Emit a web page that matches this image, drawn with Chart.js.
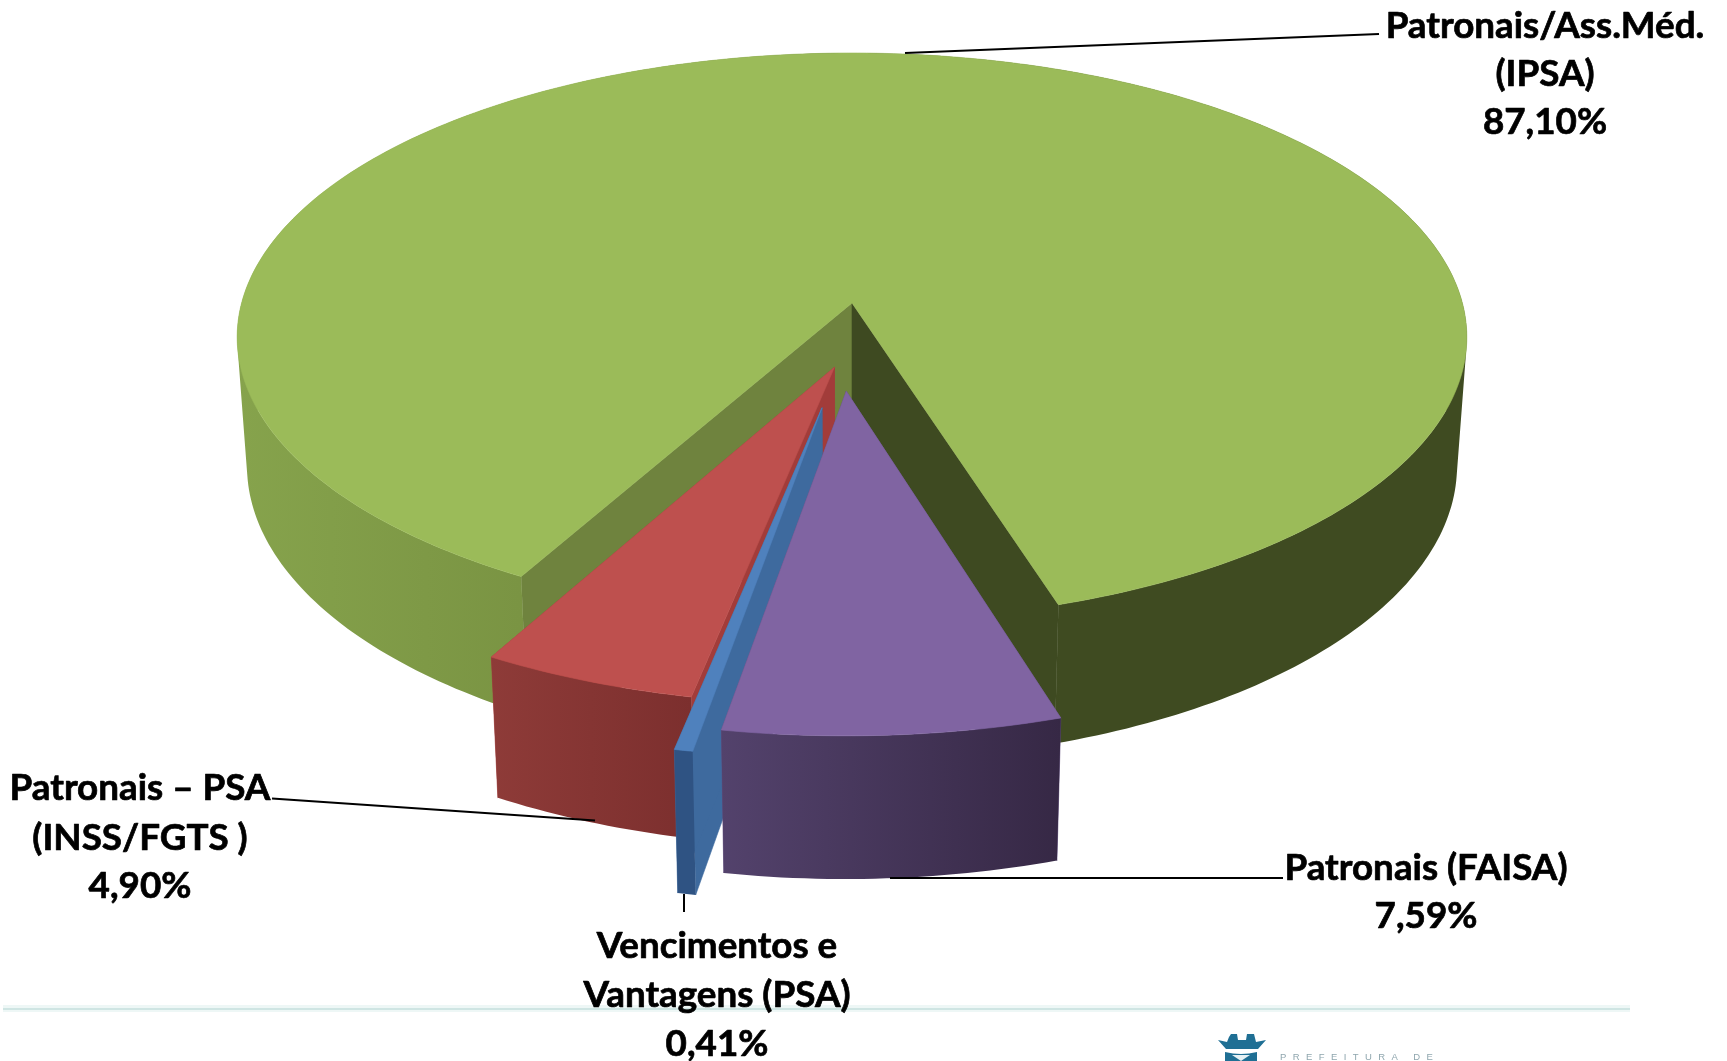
<!DOCTYPE html>
<html lang="pt"><head><meta charset="utf-8">
<style>html,body{margin:0;padding:0;background:#fff;overflow:hidden}canvas{display:block}</style>
<script src="https://cdn.jsdelivr.net/npm/chart.js@4"></script>
</head><body><canvas id="c" width="1727" height="1061"></canvas>
<script>
const categories = ["Vencimentos e Vantagens (PSA)", "Patronais – PSA (INSS/FGTS )", "Patronais/Ass.Méd. (IPSA)", "Patronais (FAISA)"];
const values = [0.41, 4.90, 87.10, 7.59];
const topColors = ["#4F81BD", "#BE504E", "#9BBB59", "#8064A2"];
const firstAngle = 189.9;

const labelLines = [["Vencimentos e", "Vantagens (PSA)"], ["Patronais – PSA", "(INSS/FGTS )"], ["Patronais/Ass.Méd.", "(IPSA)"], ["Patronais (FAISA)"]];

// camera model of the tilted pie
const cam = {cx: 852, cy: 303, A: 610.4, B: 280, C: 130, k: 0.12, m: 0.016};
// slice displacement in units of the pie radius
const shift = [[-0.047, 0.358], [-0.028, 0.2235], [0, 0], [-0.009, 0.304]];
const startWall = ["#3E6A9E", "#A23C3A", "#6F833E", "#5E4A7C"];
const endWall = ["#3E6A9E", "#A23C3A", "#3E4A21", "#5E4A7C"];
const outerStops = [
  [[0, "#2F5383"], [1, "#2F5383"]],
  [[0, "#8E3B38"], [1, "#7C2F2E"]],
  [[0, "#86A34C"], [0.23, "#7A9443"], [0.67, "#3F4B21"], [1, "#3F4B21"]],
  [[0, "#53426C"], [1, "#362845"]]
];
const textBoxes = [
  {x: 717, ys: [946, 995, 1044]},
  {x: 140, ys: [788, 838, 886]},
  {x: 1545, ys: [26, 74, 122]},
  {x: 1426, ys: [868, 916]}
];
const leaders = [
  [684, 894, 684, 912],
  [272, 798.5, 595, 820.5],
  [905, 53, 1379, 34],
  [890, 878, 1283, 878]
];

function P(u, v, h) {
  const w = 1 - cam.k * v + cam.m * h;
  return [cam.cx + cam.A * u / w, cam.cy + (cam.B * v + cam.C * h) / w];
}
function poly(ctx, pts, fill) {
  ctx.beginPath();
  pts.forEach((p, i) => i ? ctx.lineTo(p[0], p[1]) : ctx.moveTo(p[0], p[1]));
  ctx.closePath();
  ctx.fillStyle = fill;
  ctx.strokeStyle = fill;
  ctx.lineWidth = 0.6;
  ctx.fill();
  ctx.stroke();
}
function area(q) {
  let s = 0;
  q.forEach((p, i) => { const n = q[(i + 1) % q.length]; s += p[0] * n[1] - n[0] * p[1]; });
  return s;
}
function drawSlice(ctx, arc, i) {
  const [du, dv] = shift[i];
  const N = Math.max(8, Math.ceil((arc.endAngle - arc.startAngle) * 60));
  const rim = h => {
    const r = [];
    for (let j = 0; j <= N; j++) {
      const t = arc.startAngle + (arc.endAngle - arc.startAngle) * j / N;
      r.push(P(Math.cos(t) + du, Math.sin(t) + dv, h));
    }
    return r;
  };
  const top = rim(0), bottom = rim(1);
  const oT = P(du, dv, 0), oB = P(du, dv, 1);
  poly(ctx, [oT, top[0], bottom[0], oB], startWall[i]);
  poly(ctx, [oT, top[N], bottom[N], oB], endWall[i]);
  const xs = top.map(p => p[0]);
  const g = ctx.createLinearGradient(Math.min(...xs), 0, Math.max(...xs), 0);
  outerStops[i].forEach(s => g.addColorStop(s[0], s[1]));
  // one path of equally wound strips, filled once, so no seams appear
  ctx.beginPath();
  for (let j = 0; j < N; j++) {
    let q = [top[j], top[j + 1], bottom[j + 1], bottom[j]];
    if (area(q) < 0) q = q.reverse();
    q.forEach((p, n) => n ? ctx.lineTo(p[0], p[1]) : ctx.moveTo(p[0], p[1]));
    ctx.closePath();
  }
  ctx.fillStyle = g;
  ctx.fill("nonzero");
  poly(ctx, [oT].concat(top), arc.options.backgroundColor);
}
function drawLogo(ctx) {
  const c = "#1F6F94";
  ctx.fillStyle = c;
  ctx.beginPath();
  ctx.moveTo(1218, 1040); ctx.lineTo(1227, 1042); ctx.lineTo(1229, 1037); ctx.lineTo(1231, 1034); ctx.lineTo(1237, 1034);
  ctx.lineTo(1238, 1040); ctx.lineTo(1246, 1040); ctx.lineTo(1247, 1034); ctx.lineTo(1254, 1034); ctx.lineTo(1256, 1042);
  ctx.lineTo(1266, 1040); ctx.lineTo(1258, 1049); ctx.lineTo(1226, 1049); ctx.closePath();
  ctx.fill();
  ctx.beginPath();
  ctx.moveTo(1225, 1052); ctx.quadraticCurveTo(1241, 1056, 1257, 1052); ctx.lineTo(1257, 1061); ctx.lineTo(1225, 1061); ctx.closePath();
  ctx.fill();
  ctx.fillStyle = "#E6F1F4";
  ctx.beginPath();
  ctx.moveTo(1232, 1055); ctx.lineTo(1250, 1055); ctx.lineTo(1241, 1061); ctx.closePath();
  ctx.fill();
  ctx.fillStyle = "#8FA6AE";
  ctx.font = "9.5px 'Liberation Sans'";
  ctx.textAlign = "left";
  ctx.textBaseline = "middle";
  ctx.letterSpacing = "6.4px";
  ctx.fillText("PREFEITURA DE", 1280, 1057);
  ctx.letterSpacing = "0px";
}
const pie3d = {
  id: "pie3d",
  beforeDatasetDraw(chart, args) {
    const ctx = chart.ctx, arcs = args.meta.data;
    ctx.save();
    // footer rule
    ctx.fillStyle = "#EEF7F6"; ctx.fillRect(3, 1005, 1627, 7);
    ctx.fillStyle = "#CFE5E3"; ctx.fillRect(3, 1008, 1627, 2);
    // paint back to front: large slice, then left to right
    [2, 1, 0, 3].forEach(i => drawSlice(ctx, arcs[i], i));
    // leader lines
    ctx.strokeStyle = "#000"; ctx.lineWidth = 2;
    leaders.forEach(l => { ctx.beginPath(); ctx.moveTo(l[0], l[1]); ctx.lineTo(l[2], l[3]); ctx.stroke(); });
    // labels
    ctx.fillStyle = "#000";
    ctx.strokeStyle = "#000";
    ctx.lineWidth = 0.7;
    ctx.lineJoin = "round";
    ctx.font = "bold 36.8px Lato";
    ctx.textAlign = "center";
    ctx.textBaseline = "middle";
    values.forEach((val, i) => {
      const lines = labelLines[i].concat(val.toFixed(2).replace(".", ",") + "%");
      lines.forEach((s, j) => {
        ctx.fillText(s, textBoxes[i].x, textBoxes[i].ys[j]);
        ctx.strokeText(s, textBoxes[i].x, textBoxes[i].ys[j]);
      });
    });
    drawLogo(ctx);
    ctx.restore();
    return false;
  }
};
new Chart(document.getElementById("c"), {
  type: "pie",
  data: {labels: categories, datasets: [{data: values, backgroundColor: topColors, borderWidth: 0}]},
  options: {
    responsive: false, animation: false, rotation: firstAngle,
    plugins: {legend: {display: false}, tooltip: {enabled: false}}
  },
  plugins: [pie3d]
});
</script></body></html>
